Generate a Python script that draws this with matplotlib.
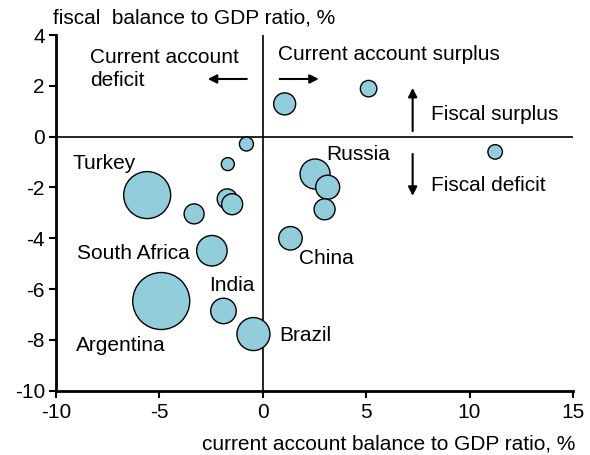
import matplotlib
matplotlib.use("Agg")
import matplotlib.pyplot as plt

plt.rcParams['font.family'] = ['Liberation Sans', 'DejaVu Sans']

# --- data -------------------------------------------------------------
current_account = [-5.59, -3.32, -1.69, -0.79, -1.72, -1.48, 1.06, 5.12, 11.24,
                   2.53, 3.14, 2.99, 1.34, -2.46, -4.91, -1.90, -0.45]
fiscal_balance = [-2.30, -3.04, -1.08, -0.29, -2.45, -2.66, 1.29, 1.89, -0.60,
                  -1.47, -1.99, -2.86, -4.00, -4.49, -6.47, -6.86, -7.77]
bubble_size = [47, 20, 13, 14, 20, 21, 22, 16.5, 14.5,
               30, 24, 21, 23.5, 30.5, 57, 25.5, 33]
country = ['Turkey', '', '', '', '', '', '', '', '',
           'Russia', '', '', 'China', 'South Africa', 'Argentina', 'India', 'Brazil']

xticks = [-10, -5, 0, 5, 10, 15]
yticks = [-10, -8, -6, -4, -2, 0, 2, 4]

# --- label placement (left edge, vertical centre, in data units) ------
label_pos = {
    'Turkey': (-9.2, -1.07),
    'Russia': (3.08, -0.72),
    'China': (1.74, -4.81),
    'South Africa': (-9.0, -4.59),
    'Argentina': (-9.03, -8.24),
    'India': (-2.61, -5.87),
    'Brazil': (0.82, -7.81),
}

FS = 15
fig = plt.figure(figsize=(5.9, 4.55), dpi=100)
ax = fig.add_axes([0.0949, 0.1413, 0.8761, 0.7817])

ax.axhline(0, color='black', lw=1.2, zorder=1)
ax.axvline(0, color='black', lw=1.2, zorder=1)

sizes = [(d * 0.72) ** 2 for d in bubble_size]
ax.scatter(current_account, fiscal_balance, s=sizes, facecolor='#92CDDC',
           edgecolor='black', linewidth=1.0, zorder=3)

for name in country:
    if name:
        lx, ly = label_pos[name]
        ax.text(lx, ly, name, ha='left', va='center', fontsize=FS, zorder=4)

# quadrant annotations
ax.text(-8.36, 2.66, 'Current account\ndeficit', ha='left', va='center',
        fontsize=FS, linespacing=1.3)
ax.text(0.74, 3.22, 'Current account surplus', ha='left', va='center', fontsize=FS)
ax.text(8.15, 0.89, 'Fiscal surplus', ha='left', va='center', fontsize=FS)
ax.text(8.15, -1.93, 'Fiscal deficit', ha='left', va='center', fontsize=FS)

arrow_kw = dict(arrowstyle='-|>', color='black', lw=1.5, mutation_scale=13,
                shrinkA=0, shrinkB=0)
ax.annotate('', xy=(-2.66, 2.27), xytext=(-0.77, 2.27), arrowprops=arrow_kw)
ax.annotate('', xy=(2.71, 2.27), xytext=(0.82, 2.27), arrowprops=arrow_kw)
ax.annotate('', xy=(7.25, 1.92), xytext=(7.25, 0.22), arrowprops=arrow_kw)
ax.annotate('', xy=(7.25, -2.33), xytext=(7.25, -0.68), arrowprops=arrow_kw)

ax.set_xlim(-10, 15)
ax.set_ylim(-10, 4)
ax.set_xticks(xticks)
ax.set_yticks(yticks)
ax.set_xticklabels([str(t) for t in xticks])
ax.set_yticklabels([str(t) for t in yticks])
ax.tick_params(axis='both', direction='out', length=5, width=1.5,
               labelsize=FS, pad=3)
ax.tick_params(axis='x', pad=4)

for side in ['top', 'right']:
    ax.spines[side].set_visible(False)
for side in ['left', 'bottom']:
    ax.spines[side].set_linewidth(2)

fig.text(53 / 590, 1 - 18 / 455, 'fiscal  balance to GDP ratio, %',
         ha='left', va='center', fontsize=FS)
fig.text(575 / 590, 1 - 444 / 455, 'current account balance to GDP ratio, %',
         ha='right', va='center', fontsize=FS)

fig.savefig('out.png', dpi=100)
